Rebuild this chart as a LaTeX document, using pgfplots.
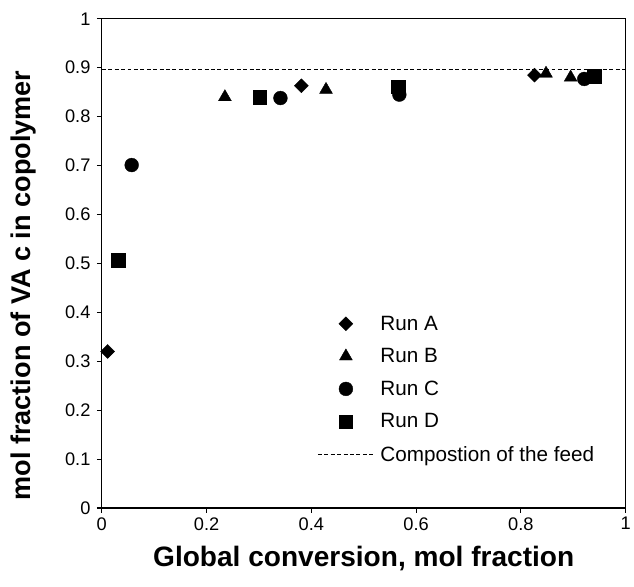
\documentclass[border=0pt]{standalone}
\usepackage{fontspec}
\setmainfont{Liberation Sans}
\usepackage{pgfplots}
\pgfplotsset{compat=1.18}
\pgfplotsset{
  markleg/.style={legend image code/.code={\draw[##1,mark repeat=2,mark phase=2] plot coordinates {(0cm,0cm) (1cm,0cm) (2cm,0cm)};}},
  lineleg/.style={legend image code/.code={\draw[##1] (0cm,0cm) -- (2cm,0cm);}},
}
\begin{document}
\begin{tikzpicture}
\begin{axis}[
  scale only axis, width=530bp, height=495bp,
  xmin=0, xmax=1, ymin=0, ymax=1,
  xtick={0,0.2,0.4,0.6,0.8,1},
  ytick={0,0.1,0.2,0.3,0.4,0.5,0.6,0.7,0.8,0.9,1},
  tick align=outside, tick pos=left, major tick length=5bp,
  axis line style={line width=1.2bp},
  every tick/.style={line width=1.2bp, black},
  /pgf/number format/assume math mode=true,
  ticklabel style={font=\fontsize{18.5}{22}\selectfont},
  yticklabel style={xshift=-3bp},
  xticklabel style={yshift=-1bp},
  xlabel={Global conversion, mol fraction},
  ylabel={mol fraction of VA c in copolymer},
  every axis x label/.style={at={(rel axis cs:0.5,0)}, yshift=-51bp, anchor=center,
    font=\fontsize{28.5}{31}\selectfont\bfseries},
  every axis y label/.style={at={(rel axis cs:0,0.455)}, xshift=-79bp, rotate=90, anchor=center,
    font=\fontsize{27.5}{30}\selectfont\bfseries},
  legend style={draw=none, fill=none, at={(rel axis cs:0.411,0.397)}, anchor=north west,
    font=\fontsize{21}{24}\selectfont, row sep=13bp, inner sep=0pt,
    nodes={inner xsep=6bp}},
  legend cell align=left,
  clip=false,
]
% Run A
\addplot[only marks, black, mark=square*, mark size=5bp, mark options={rotate=45}, markleg]
  coordinates {(0.011,0.320) (0.381,0.863) (0.826,0.885)};
\addlegendentry{Run A}
% Run B
\addplot[only marks, black, mark=triangle*, mark size=7.5bp, markleg]
  coordinates {(0.235,0.840) (0.428,0.855) (0.848,0.888) (0.895,0.880)};
\addlegendentry{Run B}
% Run C
\addplot[only marks, black, mark=*, mark size=7bp, markleg]
  coordinates {(0.057,0.701) (0.341,0.838) (0.568,0.845) (0.921,0.877)};
\addlegendentry{Run C}
% Run D
\addplot[only marks, black, mark=square*, mark size=6.8bp, markleg]
  coordinates {(0.031,0.507) (0.301,0.840) (0.566,0.861) (0.940,0.883)};
\addlegendentry{Run D}
% Feed composition
\addplot[black, line width=1.2bp, dash pattern=on 4bp off 2.5bp, mark=none, lineleg]
  coordinates {(0,0.896) (1,0.896)};
\addlegendentry{Compostion of the feed}
\coordinate (bl) at (rel axis cs:0,0);
\coordinate (tl) at (rel axis cs:0,1);
\end{axis}
\path ([xshift=-103bp,yshift=-79bp]bl) ([yshift=19bp]tl);
\end{tikzpicture}
\end{document}
